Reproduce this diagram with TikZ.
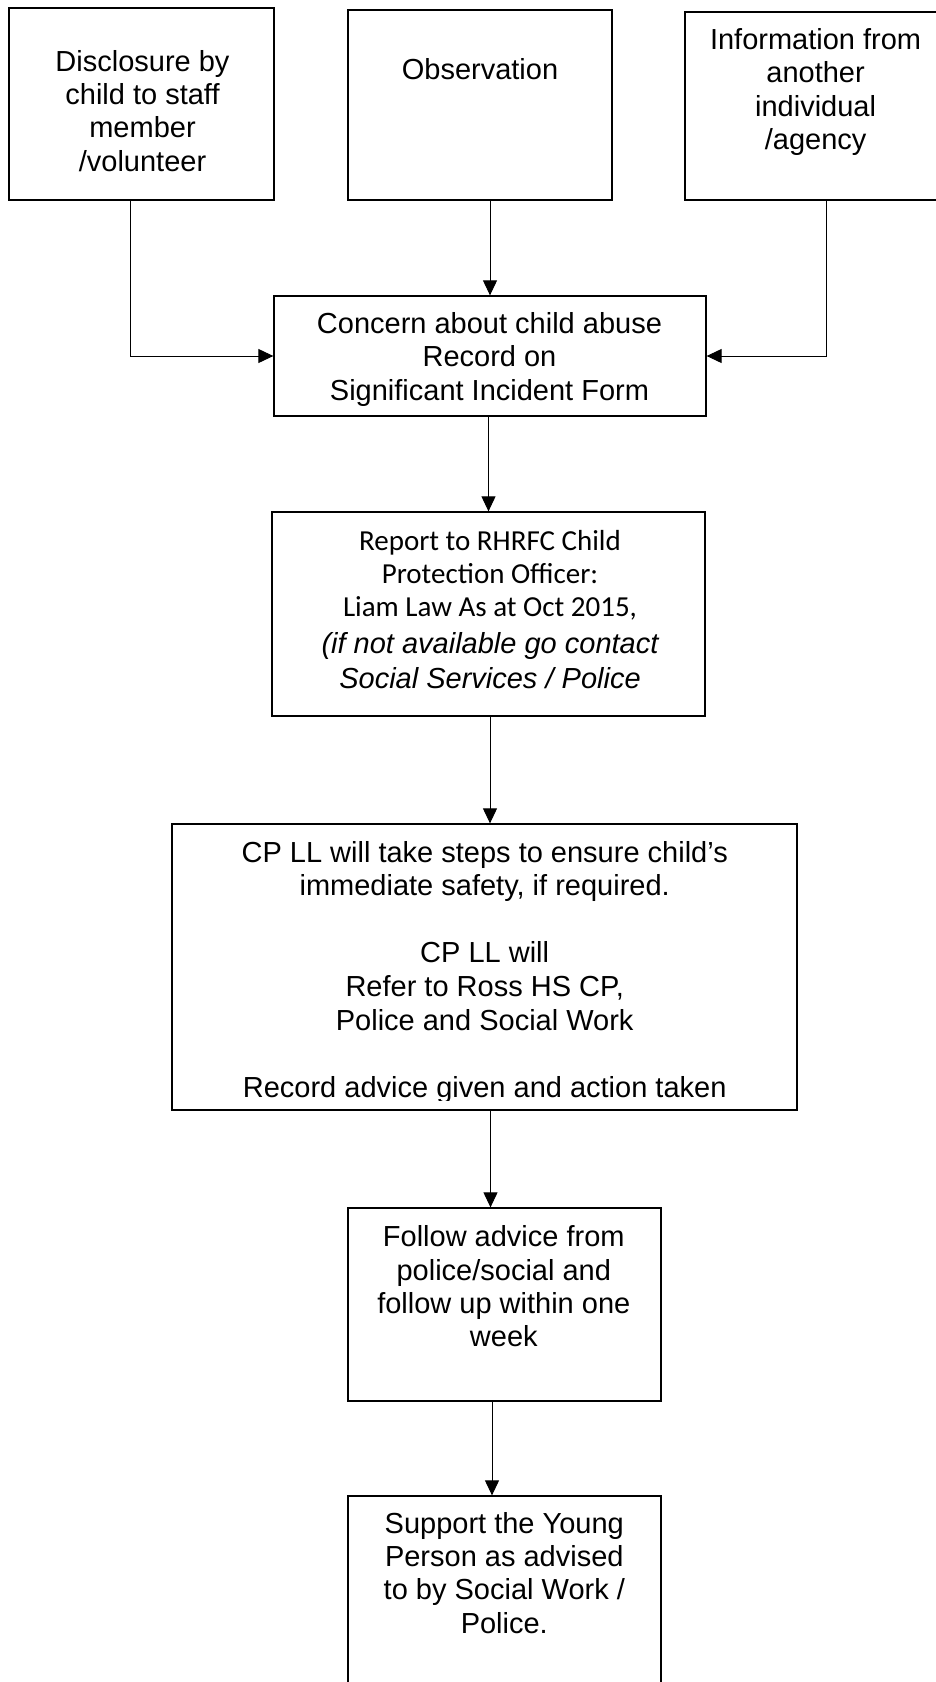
\documentclass[tikz,border=0pt]{standalone}
\usepackage{fontspec}
\setmainfont{Liberation Sans}
\newfontfamily\calibri{Carlito}
\usetikzlibrary{arrows.meta}
\begin{document}
\begin{tikzpicture}[x=1pt,y=-1pt,
  box/.style={draw, line width=1.3pt, inner sep=0pt},
  txt/.style={anchor=base, align=center, inner sep=0pt, font=\fontsize{29}{33.4}\selectfont},
  conn/.style={line width=1pt, -{Triangle[length=15pt,width=14pt]}}]
\clip (0,0) rectangle (936,1682);
\fill[white] (0,0) rectangle (936,1682);
% boxes
\node[box, minimum width=265pt, minimum height=192pt] (A) at (141.5,104) {};
\node[box, minimum width=264pt, minimum height=190pt] (B) at (480,105) {};
\node[box, minimum width=265pt, minimum height=188pt] (C) at (817.5,106) {};
\node[box, minimum width=432pt, minimum height=120pt] (concern) at (490,356) {};
\node[box, minimum width=433pt, minimum height=204pt] (report) at (488.5,614) {};
\node[box, minimum width=625pt, minimum height=286pt] (cp) at (484.5,967) {};
\node[box, minimum width=313pt, minimum height=193pt] (follow) at (504.5,1304.5) {};
\node[box, minimum width=313pt, minimum height=240pt] (support) at (504.5,1616) {};
% texts (anchor=base is the last line's baseline)
\node[txt] (tA) at (142.5,171.2) {Disclosure by\\child to staff\\member\\/volunteer};
\node[txt] (tB) at (480,79) {Observation};
\node[txt] (tC) at (815.6,149.7) {Information from\\another\\individual\\/agency};
\node[txt] (tconcern) at (489.5,400.3) {Concern about child abuse\\Record on\\Significant Incident Form};
\node[txt] (treport) at (490,688) {{\calibri Report to RHRFC Child}\\{\calibri Protection Officer:}\\{\calibri Liam Law As at Oct 2015,}\\[2.8pt]{\itshape (if not available go contact}\\[1.5pt]{\itshape Social Services / Police}};
\begin{scope}
\clip (172,824) rectangle (797,1100.5);
\node[txt, font=\fontsize{29}{33.6}\selectfont] (tcp) at (484.7,1097.2) {CP LL will take steps to ensure child’s\\immediate safety, if required.\\\mbox{}\\CP LL will\\Refer to Ross HS CP,\\Police and Social Work\\\mbox{}\\Record advice given and action taken};
\end{scope}
\node[txt] (tfollow) at (503.8,1346.9) {Follow advice from\\police/social and\\follow up within one\\week};
\node[txt] (tsupport) at (504.3,1633.2) {Support the Young\\Person as advised\\to by Social Work /\\Police.};
% connectors
\draw[conn] ([xshift=-11.5pt]A.south) |- (concern.west);
\draw[conn] ([xshift=8.5pt]C.south) |- (concern.east);
\draw[conn] (B.south -| concern.north) -- (concern.north);
\draw[conn] (concern.south -| report.north) -- (report.north);
\draw[conn] ([xshift=1.5pt]report.south) -- ([xshift=1.5pt]report.south |- cp.north);
\draw[conn] ([xshift=6pt]cp.south) -- ([xshift=6pt]cp.south |- follow.north);
\draw[conn] ([xshift=-12.5pt]follow.south) -- ([xshift=-12.5pt]follow.south |- support.north);
\end{tikzpicture}
\end{document}
